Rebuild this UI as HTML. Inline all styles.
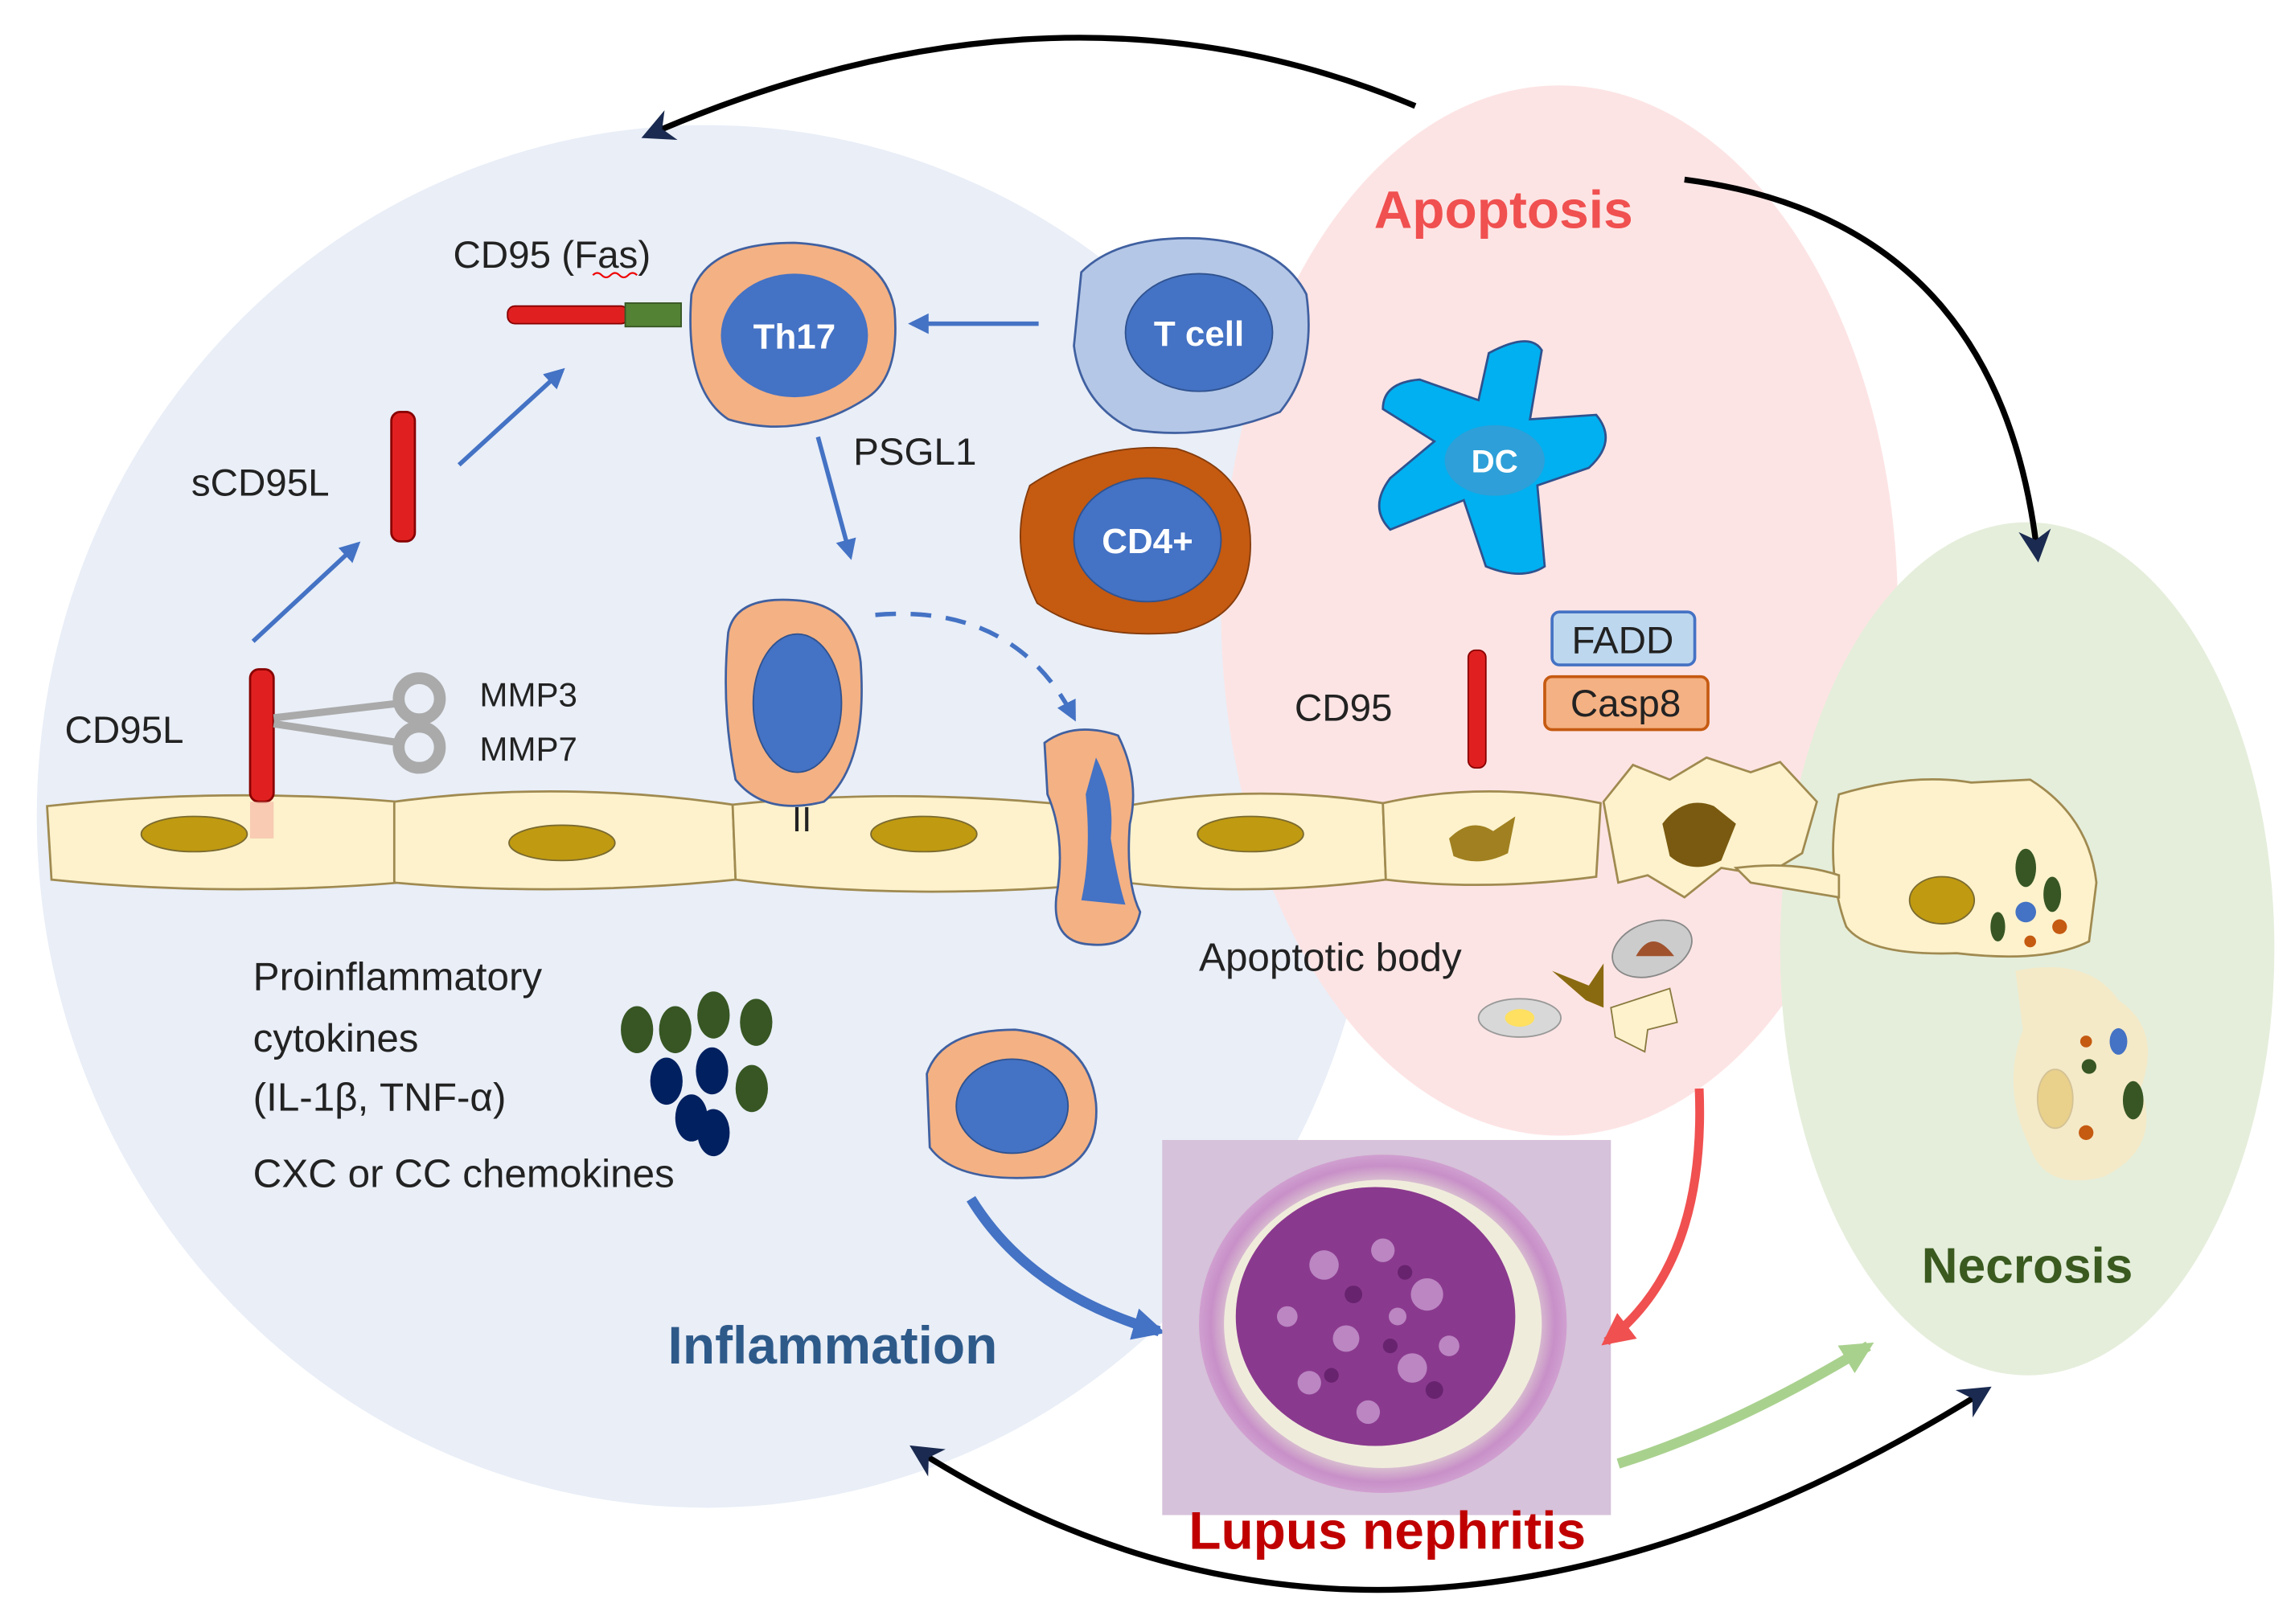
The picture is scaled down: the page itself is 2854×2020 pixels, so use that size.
<!DOCTYPE html>
<html><head><meta charset="utf-8"><style>
html,body{margin:0;padding:0;background:#fff}
svg{display:block}
text{font-family:"Liberation Sans",sans-serif}
</style></head><body>
<svg width="2854" height="2020" viewBox="0 0 1560 1104" xmlns="http://www.w3.org/2000/svg">
<defs>
<marker id="abig" viewBox="0 0 10 10" refX="8" refY="5" markerWidth="26" markerHeight="22" orient="auto-start-reverse" markerUnits="userSpaceOnUse"><path d="M0,0 L10,5 L0,10 L3,5 z" fill="#1a2a50"/></marker>
<marker id="abl" viewBox="0 0 10 10" refX="8" refY="5" markerWidth="14" markerHeight="14" orient="auto" markerUnits="userSpaceOnUse"><path d="M0,0 L10,5 L0,10 z" fill="#4472c4"/></marker>
<marker id="abr" viewBox="0 0 10 10" refX="8" refY="5" markerWidth="22" markerHeight="22" orient="auto" markerUnits="userSpaceOnUse"><path d="M0,0 L10,5 L0,10 z" fill="#f05050"/></marker>
<marker id="abg" viewBox="0 0 10 10" refX="8" refY="5" markerWidth="22" markerHeight="22" orient="auto" markerUnits="userSpaceOnUse"><path d="M0,0 L10,5 L0,10 z" fill="#a9d18e"/></marker>
<marker id="abb" viewBox="0 0 10 10" refX="8" refY="5" markerWidth="22" markerHeight="22" orient="auto" markerUnits="userSpaceOnUse"><path d="M0,0 L10,5 L0,10 z" fill="#4472c4"/></marker>
<radialGradient id="glom" cx="50%" cy="50%" r="55%"><stop offset="0" stop-color="#7a2a80"/><stop offset="0.55" stop-color="#9a4a9a"/><stop offset="0.7" stop-color="#e8e8d8"/><stop offset="0.85" stop-color="#c890c8"/><stop offset="1" stop-color="#dcb8dc"/></radialGradient>
</defs>
<rect width="1560" height="1104" fill="#fff"/>
<ellipse cx="480" cy="555" rx="455" ry="470" fill="#e9eef7"/>
<ellipse cx="1060" cy="415" rx="230" ry="357" fill="#fde4e4"/>
<ellipse cx="1378" cy="645" rx="168" ry="290" fill="#e5eedb"/>
<path d="M962,72 Q720,-30 440,92" fill="none" stroke="#000" stroke-width="4" marker-end="url(#abig)"/>
<path d="M1145,122 Q1360,150 1385,378" fill="none" stroke="#000" stroke-width="4" marker-end="url(#abig)"/>
<path d="M622,985 Q950,1195 1350,945" fill="none" stroke="#000" stroke-width="4" marker-start="url(#abig)" marker-end="url(#abig)"/>
<g fill="#fdf2cc" stroke="#a08a50" stroke-width="1.5">
<path d="M32,548 Q150,535 270,545 L272,600 Q150,610 35,598 Z"/>
<path d="M268,545 Q380,530 498,547 L500,598 Q380,610 268,600 Z"/>
<path d="M498,547 Q610,535 735,548 L735,602 Q610,612 500,598 Z"/>
<path d="M765,548 Q850,532 940,546 L942,598 Q850,610 765,600 Z"/>
<path d="M940,546 Q1010,530 1088,546 L1085,596 Q1010,606 942,598 Z"/>
<path d="M1090,545 L1110,520 L1135,530 L1160,515 L1190,525 L1210,518 L1235,545 L1225,580 L1200,595 L1170,590 L1145,610 L1120,595 L1100,600 Z"/>
<path d="M1250,540 Q1300,525 1340,532 L1380,530 Q1420,555 1425,600 L1420,640 Q1390,655 1330,648 Q1270,650 1255,630 Q1240,590 1250,540 Z"/>
<path d="M1180,590 Q1220,585 1250,595 L1250,610 L1190,600 Z"/>
</g>
<g fill="#c09a10" stroke="#7a6a30" stroke-width="1">
<ellipse cx="132" cy="567" rx="36" ry="12"/>
<ellipse cx="382" cy="573" rx="36" ry="12"/>
<ellipse cx="628" cy="567" rx="36" ry="12"/>
<ellipse cx="850" cy="567" rx="36" ry="12"/>
<ellipse cx="1320" cy="612" rx="22" ry="16"/>
<ellipse cx="1397" cy="747" rx="12" ry="20"/>
</g>
<path d="M985,570 Q1000,555 1015,565 L1030,555 L1025,580 Q1005,590 988,582 Z" fill="#a08020"/>
<path d="M1130,560 Q1145,540 1165,548 L1180,560 L1170,585 Q1150,595 1135,582 Z" fill="#7a5a10"/>
<path d="M1370,660 Q1420,650 1440,680 Q1470,700 1455,740 Q1470,780 1430,800 Q1390,810 1380,780 Q1360,740 1375,700 Z" fill="#fbe8c0" opacity="0.7"/>
<g>
<ellipse cx="1377" cy="590" rx="7" ry="13" fill="#375623"/><ellipse cx="1395" cy="608" rx="6" ry="12" fill="#375623"/><circle cx="1377" cy="620" r="7" fill="#4472c4"/><circle cx="1400" cy="630" r="5" fill="#c55a11"/><circle cx="1380" cy="640" r="4" fill="#c55a11"/><ellipse cx="1358" cy="630" rx="5" ry="10" fill="#375623"/>
<circle cx="1418" cy="708" r="4" fill="#c55a11"/><ellipse cx="1440" cy="708" rx="6" ry="9" fill="#4472c4"/><circle cx="1420" cy="725" r="5" fill="#375623"/><ellipse cx="1450" cy="748" rx="7" ry="13" fill="#375623"/><circle cx="1418" cy="770" r="5" fill="#c55a11"/>
</g>
<rect x="170" y="455" width="16" height="90" rx="6" fill="#e02020" stroke="#800" stroke-width="1.5"/>
<rect x="170" y="545" width="16" height="25" fill="#f5b0a0" opacity="0.6"/>
<path d="M186,488 L272,478 M186,492 L272,505" stroke="#aaa" stroke-width="5"/>
<circle cx="285" cy="475" r="14" fill="none" stroke="#aaa" stroke-width="8"/><circle cx="285" cy="508" r="14" fill="none" stroke="#aaa" stroke-width="8"/>
<text x="44" y="505" font-size="26" fill="#222">CD95L</text>
<text x="326" y="480" font-size="23" fill="#222">MMP3</text>
<text x="326" y="517" font-size="23" fill="#222">MMP7</text>
<rect x="266" y="280" width="16" height="88" rx="6" fill="#e02020" stroke="#800" stroke-width="1.5"/>
<text x="130" y="337" font-size="26" fill="#222">sCD95L</text>
<line x1="172" y1="436" x2="243" y2="370" stroke="#4472c4" stroke-width="3" marker-end="url(#abl)"/>
<line x1="312" y1="316" x2="382" y2="252" stroke="#4472c4" stroke-width="3" marker-end="url(#abl)"/>
<rect x="345" y="208" width="82" height="12" rx="5" fill="#e02020" stroke="#800"/>
<rect x="425" y="206" width="38" height="16" fill="#548235" stroke="#375623"/>
<text x="308" y="182" font-size="26" fill="#222">CD95 (Fas)</text>
<path d="M403,187 q3,-3 6,0 t6,0 t6,0 t6,0 t6,0" stroke="#e00" fill="none" stroke-width="1.2"/>
<path d="M470,200 Q480,165 540,165 Q600,168 608,210 Q612,255 590,270 Q545,300 495,285 Q465,265 470,200 Z" fill="#f4b183" stroke="#4060a0" stroke-width="1.5"/>
<ellipse cx="540" cy="228" rx="50" ry="42" fill="#4472c4"/>
<text x="540" y="237" font-size="24" font-weight="bold" fill="#fff" text-anchor="middle">Th17</text>
<line x1="706" y1="220" x2="620" y2="220" stroke="#4472c4" stroke-width="3" marker-end="url(#abl)"/>
<path d="M735,185 Q760,160 815,162 Q870,165 888,200 Q895,250 870,280 Q820,300 770,292 Q735,275 730,235 Z" fill="#b4c7e7" stroke="#4060a0" stroke-width="1.5"/>
<ellipse cx="815" cy="226" rx="50" ry="40" fill="#4472c4" stroke="#2f528f"/>
<text x="815" y="235" font-size="24" font-weight="bold" fill="#fff" text-anchor="middle">T cell</text>
<text x="580" y="316" font-size="26" fill="#222">PSGL1</text>
<line x1="556" y1="297" x2="578" y2="378" stroke="#4472c4" stroke-width="3" marker-end="url(#abl)"/>
<path d="M700,330 Q745,300 800,305 Q850,320 850,370 Q850,420 800,430 Q740,435 705,410 Q685,370 700,330 Z" fill="#c55a11" stroke="#843c0c"/>
<ellipse cx="780" cy="367" rx="50" ry="42" fill="#4472c4" stroke="#2f528f"/>
<text x="780" y="376" font-size="24" font-weight="bold" fill="#fff" text-anchor="middle">CD4+</text>
<path d="M1012,240 Q1040,225 1048,238 L1040,285 L1085,282 Q1100,300 1080,318 L1045,330 L1050,385 Q1035,395 1010,385 L995,340 L945,360 Q930,345 945,325 L975,300 L940,278 Q940,260 965,258 L1005,272 Z" fill="#00b0f0" stroke="#2f528f" stroke-width="1.5"/>
<ellipse cx="1016" cy="313" rx="34" ry="24" fill="#2e9fd8"/>
<text x="1016" y="321" font-size="22" font-weight="bold" fill="#fff" text-anchor="middle">DC</text>
<text x="1022" y="155" font-size="36" font-weight="bold" fill="#f05050" text-anchor="middle">Apoptosis</text>
<rect x="998" y="442" width="12" height="80" rx="5" fill="#e02020" stroke="#800"/>
<text x="880" y="490" font-size="26" fill="#222">CD95</text>
<rect x="1055" y="416" width="97" height="36" rx="5" fill="#bdd7ee" stroke="#4472c4" stroke-width="2"/>
<text x="1103" y="444" font-size="26" fill="#222" text-anchor="middle">FADD</text>
<rect x="1050" y="460" width="111" height="36" rx="5" fill="#f4b183" stroke="#c55a11" stroke-width="2"/>
<text x="1105" y="487" font-size="26" fill="#222" text-anchor="middle">Casp8</text>
<path d="M495,430 Q500,405 540,408 Q580,410 585,450 Q590,520 560,545 Q520,555 500,530 Q490,480 495,430 Z" fill="#f4b183" stroke="#4060a0" stroke-width="1.5"/>
<ellipse cx="542" cy="478" rx="30" ry="47" fill="#4472c4" stroke="#2f528f"/>
<text x="545" y="565" font-size="24" fill="#222" text-anchor="middle">II</text>
<path d="M595,418 Q690,410 730,488" fill="none" stroke="#4472c4" stroke-width="3" stroke-dasharray="14,10" marker-end="url(#abl)"/>
<path d="M710,505 Q730,490 760,500 Q775,530 768,560 Q765,600 775,620 Q770,645 740,642 Q715,640 718,610 Q725,570 712,540 Z" fill="#f4b183" stroke="#4060a0" stroke-width="1.5"/>
<path d="M745,515 Q758,540 755,570 Q760,600 765,615 L735,612 Q742,580 738,540 Z" fill="#4472c4"/>
<text x="172" y="673" font-size="27" fill="#222">Proinflammatory</text>
<text x="172" y="715" font-size="27" fill="#222">cytokines</text>
<text x="172" y="755" font-size="27" fill="#222">(IL-1β, TNF-α)</text>
<text x="172" y="807" font-size="27" fill="#222">CXC or CC chemokines</text>
<g>
<ellipse cx="433" cy="700" rx="11" ry="16" fill="#375623"/><ellipse cx="459" cy="700" rx="11" ry="16" fill="#375623"/><ellipse cx="485" cy="690" rx="11" ry="16" fill="#375623"/><ellipse cx="514" cy="695" rx="11" ry="16" fill="#375623"/>
<ellipse cx="453" cy="735" rx="11" ry="16" fill="#002060"/><ellipse cx="484" cy="728" rx="11" ry="16" fill="#002060"/><ellipse cx="511" cy="740" rx="11" ry="16" fill="#375623"/><ellipse cx="470" cy="760" rx="11" ry="16" fill="#002060"/><ellipse cx="485" cy="770" rx="11" ry="16" fill="#002060"/>
</g>
<path d="M630,730 Q640,700 690,700 Q740,705 745,750 Q748,790 710,800 Q650,805 632,780 Z" fill="#f4b183" stroke="#4060a0" stroke-width="1.5"/>
<ellipse cx="688" cy="752" rx="38" ry="32" fill="#4472c4" stroke="#2f528f"/>
<path d="M660,815 Q700,880 788,905" fill="none" stroke="#4472c4" stroke-width="7" marker-end="url(#abb)"/>
<text x="566" y="927" font-size="36" font-weight="bold" fill="#2e5a8a" text-anchor="middle">Inflammation</text>
<text x="815" y="660" font-size="27" fill="#222">Apoptotic body</text>
<ellipse cx="1123" cy="645" rx="28" ry="18" fill="#ccc" stroke="#888" transform="rotate(-20 1123 645)"/>
<path d="M1112,650 Q1123,630 1138,650 Z" fill="#a0522d"/>
<path d="M1055,660 L1080,670 L1090,655 L1090,685 L1078,680 Z" fill="#8a6a10"/>
<ellipse cx="1033" cy="692" rx="28" ry="13" fill="#d8d8d8" stroke="#999"/>
<ellipse cx="1033" cy="692" rx="10" ry="6" fill="#ffe060"/>
<path d="M1095,685 L1135,672 L1140,695 L1120,700 L1118,715 L1098,705 Z" fill="#fdf2cc" stroke="#8a7a40"/>
<rect x="790" y="775" width="305" height="255" fill="#d6c2da"/>
<ellipse cx="940" cy="900" rx="125" ry="115" fill="url(#glom)"/>
<ellipse cx="940" cy="900" rx="108" ry="98" fill="#f0ecdc"/>
<ellipse cx="935" cy="895" rx="95" ry="88" fill="#8a3a8e"/>
<g fill="#c89ad0" opacity="0.8">
<circle cx="900" cy="860" r="10"/><circle cx="940" cy="850" r="8"/><circle cx="970" cy="880" r="11"/><circle cx="915" cy="910" r="9"/><circle cx="960" cy="930" r="10"/><circle cx="890" cy="940" r="8"/><circle cx="985" cy="915" r="7"/><circle cx="930" cy="960" r="8"/><circle cx="875" cy="895" r="7"/><circle cx="950" cy="895" r="6"/>
</g>
<g fill="#5a1a62" opacity="0.7"><circle cx="920" cy="880" r="6"/><circle cx="955" cy="865" r="5"/><circle cx="905" cy="935" r="5"/><circle cx="975" cy="945" r="6"/><circle cx="945" cy="915" r="5"/></g>
<path d="M1155,740 Q1160,860 1092,912" fill="none" stroke="#f05050" stroke-width="6" marker-end="url(#abr)"/>
<path d="M1100,995 Q1180,970 1270,915" fill="none" stroke="#a9d18e" stroke-width="7" marker-end="url(#abg)"/>
<text x="943" y="1053" font-size="36" font-weight="bold" fill="#c00000" text-anchor="middle">Lupus nephritis</text>
<text x="1378" y="872" font-size="34" font-weight="bold" fill="#3a5a20" text-anchor="middle">Necrosis</text>
</svg>
</body></html>
